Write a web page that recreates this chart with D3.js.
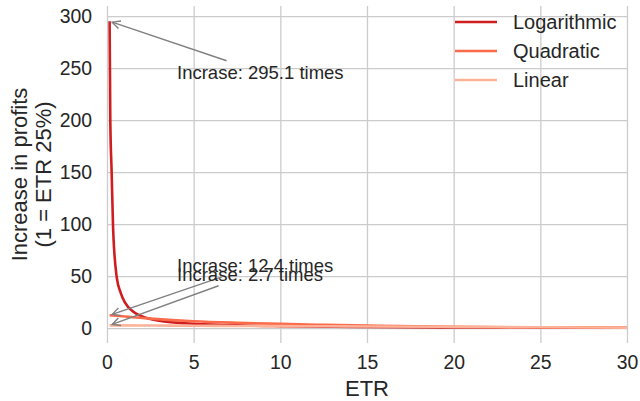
<!DOCTYPE html>
<html>
<head>
<meta charset="utf-8">
<script src="https://cdn.jsdelivr.net/npm/d3@7"></script>
<style>
  body { margin: 0; background: #fff; }
  text { font-family: "Liberation Sans", Arial, sans-serif; fill: #262626; }
</style>
</head>
<body>
<svg width="640" height="401"></svg>
<script>

// ETR values (x) for the logarithmic curve
var etrLog = [0.15, 0.19, 0.27, 0.35, 0.56, 0.79, 1.04, 1.5, 2, 2.4, 3, 4, 5, 7.5, 10, 15, 20, 25, 30];
var logValues = [295.1, 200, 149, 97, 49, 34, 24.5, 16, 11.5, 9.2, 7.2, 5.3, 4.3, 2.7, 1.9, 1.1, 0.75, 0.55, 0.45];

// ETR values (x) for quadratic and linear curves
var etrOther = [0.15, 2.5, 5, 7.5, 10, 12.5, 15, 20, 25, 30];
var quadValues = [12.4, 9.2, 6.7, 5.2, 4.1, 3.2, 2.5, 1.3, 0.8, 0.6];
var linValues = [2.7, 2.5, 2.3, 2.1, 1.95, 1.8, 1.6, 1.25, 0.9, 0.5];

var seriesNames = ['Logarithmic', 'Quadratic', 'Linear'];
var seriesColors = ['#d01d1f', '#fb6a4a', '#fcb399'];

var xTicks = [0, 5, 10, 15, 20, 25, 30];
var yTicks = [0, 50, 100, 150, 200, 250, 300];

// Annotations: label, point, text position (data coords)
var annLabels = ['Incrase: 295.1 times', 'Incrase: 12.4 times', 'Incrase: 2.7 times'];
var annPoints = [[0.15, 295.1], [0.15, 12.4], [0.15, 2.7]];
var annTextPos = [[4.04, 240], [4.04, 54], [4.04, 45.5]];

var series = [
  {name: seriesNames[0], x: etrLog, y: logValues, color: seriesColors[0]},
  {name: seriesNames[1], x: etrOther, y: quadValues, color: seriesColors[1]},
  {name: seriesNames[2], x: etrOther, y: linValues, color: seriesColors[2]}
];

var svg = d3.select('svg');
var plotLeft = 107, plotRight = 627, plotTop = 6, plotBottom = 343;

// y domain with matplotlib-like 5% margins
var allY = logValues.concat(quadValues, linValues);
var yMin = d3.min(allY), yMax = d3.max(allY);
var pad = (yMax - yMin) * 0.05;

var x = d3.scaleLinear().domain([0, 30]).range([plotLeft, plotRight]);
var y = d3.scaleLinear().domain([yMin - pad, yMax + pad]).range([plotBottom, plotTop]);

// grid
svg.append('g')
    .attr('transform', 'translate(0,' + plotBottom + ')')
    .call(d3.axisBottom(x).tickValues(xTicks).tickSize(-(plotBottom - plotTop)).tickPadding(12))
    .call(g => g.select('.domain').remove())
    .call(g => g.selectAll('line').attr('stroke', '#cccccc').attr('stroke-width', 1.3))
    .call(g => g.selectAll('text').attr('font-size', 19.4).attr('fill', '#262626'));

svg.append('g')
    .attr('transform', 'translate(' + plotLeft + ',0)')
    .call(d3.axisLeft(y).tickValues(yTicks).tickSize(-(plotRight - plotLeft)).tickPadding(15))
    .call(g => g.select('.domain').remove())
    .call(g => g.selectAll('line').attr('stroke', '#cccccc').attr('stroke-width', 1.3))
    .call(g => g.selectAll('text').attr('font-size', 19.4).attr('fill', '#262626'));

// curves
var line = d3.line().curve(d3.curveMonotoneX);
svg.append('g')
  .selectAll('path').data(series).enter().append('path')
    .attr('fill', 'none')
    .attr('stroke', d => d.color)
    .attr('stroke-width', 2.6)
    .attr('d', d => line(d.x.map((v, i) => [x(v), y(d.y[i])])));

// axis labels
svg.append('text')
    .attr('x', (plotLeft + plotRight) / 2).attr('y', 396)
    .attr('text-anchor', 'middle').attr('font-size', 22)
    .text('ETR');

var yLab = svg.append('text')
    .attr('transform', 'translate(0,' + ((plotTop + plotBottom) / 2) + ') rotate(-90)')
    .attr('text-anchor', 'middle').attr('font-size', 22);
yLab.append('tspan').attr('x', 0).attr('y', 27).text('Increase in profits');
yLab.append('tspan').attr('x', 0).attr('y', 51).text('(1 = ETR 25%)');

// annotations
var shrink = 2.7;
annLabels.forEach(function(label, i) {
  var t = svg.append('text')
      .attr('x', x(annTextPos[i][0])).attr('y', y(annTextPos[i][1]))
      .attr('font-size', 18.5)
      .text(label);
  var b = t.node().getBBox();
  var cx = b.x + b.width / 2, cy = b.y + b.height / 2;
  var px = x(annPoints[i][0]), py = y(annPoints[i][1]);
  var dx = px - cx, dy = py - cy;
  var len = Math.sqrt(dx * dx + dy * dy);
  var ux = dx / len, uy = dy / len;
  // leave the text box
  var tx = Math.abs(dx) > 0 ? (b.width / 2) / Math.abs(dx) : Infinity;
  var ty = Math.abs(dy) > 0 ? (b.height / 2) / Math.abs(dy) : Infinity;
  var tt = Math.min(tx, ty);
  var sx = cx + dx * tt + ux * shrink, sy = cy + dy * tt + uy * shrink;
  var ex = px - ux * shrink, ey = py - uy * shrink;
  var g = svg.append('g').attr('stroke', '#808080').attr('stroke-width', 1.4).attr('fill', 'none');
  g.append('line').attr('x1', sx).attr('y1', sy).attr('x2', ex).attr('y2', ey);
  var hl = 8, hw = 4;
  var bx = ex - ux * hl, by = ey - uy * hl;
  g.append('path').attr('d', 'M' + (bx - uy * hw) + ',' + (by + ux * hw) +
      'L' + ex + ',' + ey + 'L' + (bx + uy * hw) + ',' + (by - ux * hw));
});

// legend
var legend = svg.append('g');
series.forEach(function(s, i) {
  var ly = 22 + i * 29;
  legend.append('line')
      .attr('x1', 455).attr('x2', 497).attr('y1', ly).attr('y2', ly)
      .attr('stroke', s.color).attr('stroke-width', 2.6);
  legend.append('text')
      .attr('x', 513).attr('y', ly).attr('dy', '0.35em')
      .attr('font-size', 20)
      .text(s.name);
});
</script>
</body>
</html>
